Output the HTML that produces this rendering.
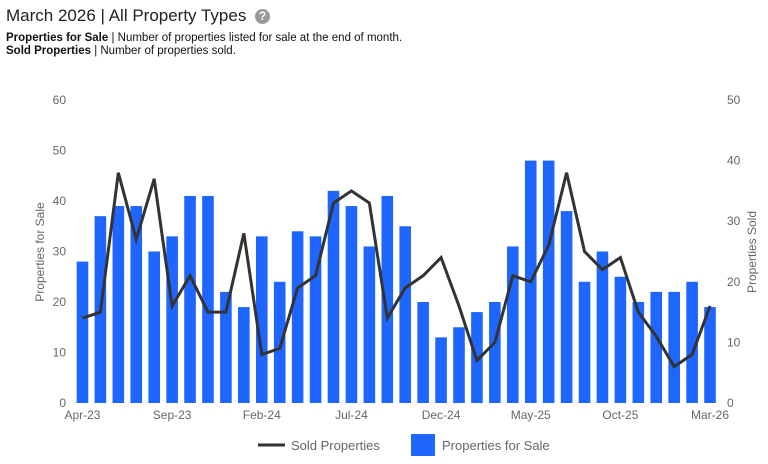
<!DOCTYPE html>
<html><head><meta charset="utf-8"><style>
body{margin:0;width:768px;height:464px;background:#fff;font-family:"Liberation Sans",sans-serif;overflow:hidden;position:relative}
.t{position:absolute;left:6px;top:6px;font-size:17px;color:#222}
.h{display:inline-block;width:15px;height:15px;border-radius:50%;background:#999;color:#fff;font-size:12px;text-align:center;line-height:15px;font-weight:bold;vertical-align:1px;margin-left:4px}
.s{position:absolute;left:6px;font-size:11.5px;color:#111}
</style></head><body>
<div class="t">March 2026 | All Property Types <span class="h">?</span></div>
<div class="s" style="top:32px"><b>Properties for Sale</b> | Number of properties listed for sale at the end of month.</div>
<div class="s" style="top:45px"><b>Sold Properties</b> | Number of properties sold.</div>
<svg id="c" width="768" height="464" style="position:absolute;left:0;top:0"></svg>
<script>
const months=["Apr-23","May-23","Jun-23","Jul-23","Aug-23","Sep-23","Oct-23","Nov-23","Dec-23","Jan-24","Feb-24","Mar-24","Apr-24","May-24","Jun-24","Jul-24","Aug-24","Sep-24","Oct-24","Nov-24","Dec-24","Jan-25","Feb-25","Mar-25","Apr-25","May-25","Jun-25","Jul-25","Aug-25","Sep-25","Oct-25","Nov-25","Dec-25","Jan-26","Feb-26","Mar-26"];
const forSale=[28,37,39,39,30,33,41,41,22,19,33,24,34,33,42,39,31,41,35,20,13,15,18,20,31,48,48,38,24,30,25,20,22,22,24,19];
const sold=[14,15,38,27,37,16,21,15,15,28,8,9,19,21,33,35,33,14,19,21,24,16,7,10,21,20,26,38,25,22,24,15,11,6,8,16];
const leftTicks=[0,10,20,30,40,50,60];
const rightTicks=[0,10,20,30,40,50];
const xLabelIdx=[0,5,10,15,20,25,30,35];
const NS="http://www.w3.org/2000/svg",svg=document.getElementById('c');
const L=73.5,R=719,T=100,B=403;
const band=(R-L)/months.length;
const xc=i=>L+band*(i+0.5);
const yL=v=>B-(B-T)*v/60;
const yR=v=>B-(B-T)*v/50;
function mk(tag,a,txt){const e=document.createElementNS(NS,tag);for(const k in a)e.setAttribute(k,a[k]);if(txt!=null)e.textContent=txt;svg.appendChild(e);return e;}
leftTicks.forEach(v=>{const e=mk('text',{x:66,y:yL(v)+4,'text-anchor':'end','font-size':12,fill:'#666'},v);

});
rightTicks.forEach(v=>{const e=mk('text',{x:727,y:yR(v)+4,'font-size':12,fill:'#666'},v);

});
forSale.forEach((v,i)=>{const e=mk('rect',{x:xc(i)-5.8,y:yL(v),width:11.6,height:B-yL(v),fill:'#1f66ff'});

});
const pl=mk('polyline',{points:sold.map((v,i)=>xc(i)+','+yR(v)).join(' '),fill:'none',stroke:'#333',"stroke-width":3,"stroke-linejoin":"miter"});


xLabelIdx.forEach(i=>{const e=mk('text',{x:xc(i),y:419,'text-anchor':'middle','font-size':12,fill:'#666'},months[i]);

});
let e=mk('text',{x:0,y:0,transform:'translate(44,252) rotate(-90)','text-anchor':'middle','font-size':12,fill:'#666'},'Properties for Sale');


e=mk('text',{x:0,y:0,transform:'translate(756,252) rotate(-90)','text-anchor':'middle','font-size':12,fill:'#666'},'Properties Sold');


e=mk('line',{x1:258,y1:445,x2:285,y2:445,stroke:'#333','stroke-width':3});


e=mk('text',{x:291,y:450,'font-size':13,fill:'#666'},'Sold Properties');


e=mk('rect',{x:411,y:434,width:24,height:22,fill:'#1f66ff'});


e=mk('text',{x:442,y:450,'font-size':13,fill:'#666'},'Properties for Sale');


</script>
</body></html>
